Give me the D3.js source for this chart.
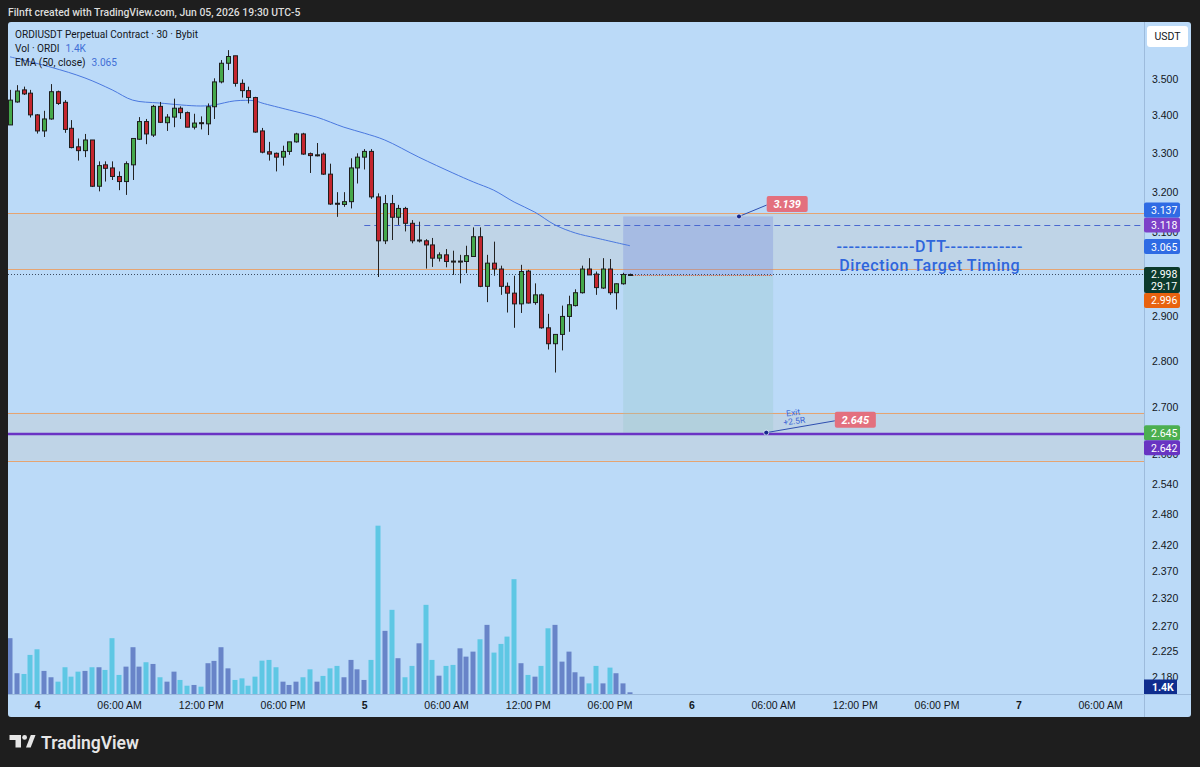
<!DOCTYPE html>
<html>
<head>
<meta charset="utf-8">
<script src="https://cdn.jsdelivr.net/npm/d3@7"></script>
<style>
  body { margin: 0; background: #1e1e1e; }
  svg { display: block; font-family: Roboto, "Liberation Sans", sans-serif; }
</style>
</head>
<body>
<svg id="chart" width="1200" height="767"></svg>
<script>
// 30 min candles, first one starts here (UTC-5)
const firstCandle = "2026-06-03 22:00";

const opens = [3.375,3.437,3.470,3.461,3.402,3.359,3.391,3.465,3.436,3.366,
  3.317,3.307,3.335,3.215,3.270,3.262,3.240,3.227,3.270,3.337,
  3.384,3.348,3.425,3.381,3.396,3.420,3.408,3.369,3.381,3.378,
  3.424,3.492,3.544,3.565,3.488,3.468,3.449,3.359,3.304,3.300,
  3.290,3.305,3.330,3.351,3.299,3.294,3.298,3.246,3.172,3.169,
  3.176,3.262,3.290,3.305,3.188,3.079,3.171,3.137,3.159,3.122,
  3.079,3.079,3.069,3.037,3.045,3.030,3.029,3.029,3.041,3.089,
  2.970,3.025,3.011,2.970,2.954,2.929,3.006,2.932,2.950,2.874,
  2.838,2.859,2.900,2.925,2.955,3.011,2.999,2.966,3.011,2.955,
  2.976,2.998];
const highs = [3.470,3.483,3.479,3.470,3.404,3.413,3.486,3.468,3.442,3.388,
  3.339,3.351,3.335,3.279,3.279,3.279,3.253,3.279,3.339,3.396,
  3.391,3.429,3.437,3.404,3.446,3.425,3.411,3.405,3.398,3.433,
  3.502,3.553,3.581,3.565,3.499,3.479,3.451,3.367,3.330,3.302,
  3.320,3.330,3.354,3.354,3.302,3.327,3.302,3.273,3.200,3.200,
  3.287,3.300,3.311,3.311,3.197,3.193,3.193,3.168,3.163,3.130,
  3.126,3.083,3.086,3.051,3.059,3.055,3.045,3.067,3.112,3.112,
  3.045,3.077,3.019,2.979,2.995,3.021,3.009,2.977,2.953,2.906,
  2.859,2.925,2.948,2.963,3.019,3.037,3.005,3.037,3.035,2.977,
  3.002,3.000];
const lows = [3.375,3.435,3.456,3.395,3.352,3.343,3.389,3.429,3.354,3.313,
  3.281,3.290,3.213,3.202,3.227,3.231,3.205,3.193,3.231,3.335,
  3.324,3.343,3.380,3.359,3.369,3.391,3.369,3.363,3.363,3.348,
  3.391,3.488,3.525,3.479,3.449,3.433,3.354,3.300,3.281,3.253,
  3.268,3.296,3.328,3.296,3.249,3.292,3.244,3.168,3.138,3.163,
  3.159,3.222,3.258,3.183,2.992,3.071,3.081,3.118,3.102,3.073,
  3.075,3.012,3.016,3.029,3.015,2.997,2.977,3.001,3.041,2.968,
  2.933,2.995,2.950,2.909,2.874,2.908,2.930,2.927,2.872,2.825,
  2.774,2.823,2.865,2.923,2.953,2.997,2.950,2.964,2.950,2.916,
  2.974,2.996];
const closes = [3.442,3.467,3.459,3.402,3.359,3.391,3.465,3.433,3.363,3.315,
  3.307,3.335,3.215,3.268,3.261,3.240,3.227,3.273,3.339,3.384,
  3.351,3.425,3.382,3.396,3.420,3.408,3.369,3.380,3.380,3.424,
  3.492,3.544,3.563,3.488,3.468,3.449,3.356,3.303,3.298,3.290,
  3.305,3.330,3.351,3.298,3.294,3.296,3.246,3.170,3.171,3.176,
  3.262,3.290,3.305,3.188,3.079,3.171,3.137,3.159,3.122,3.079,
  3.081,3.069,3.037,3.045,3.029,3.029,3.030,3.043,3.089,2.970,
  3.025,3.011,2.970,2.954,2.929,3.005,2.931,2.950,2.874,2.838,
  2.859,2.900,2.927,2.955,3.011,2.997,2.967,3.011,2.955,2.976,
  2.998,2.998];
// volume in K ORDI
const volumes = [45.7,17.0,16.4,32.0,36.6,18.9,13.7,10.1,21.9,14.2,
  18.3,18.9,21.9,21.9,19.7,45.7,15.6,22.4,38.3,22.4,
  26.0,24.6,13.7,10.1,18.3,11.5,6.8,7.4,6.0,25.2,
  27.1,38.3,21.0,11.5,12.8,6.8,14.2,27.3,27.9,21.9,
  10.1,7.4,10.1,13.7,20.2,10.1,14.8,21.0,23.0,13.7,
  27.9,20.2,11.5,27.9,137.8,51.7,68.9,29.3,13.7,23.0,
  41.5,73.0,27.9,15.0,23.0,23.8,37.4,30.6,34.7,44.8,
  56.6,33.9,41.0,47.0,94.0,25.2,15.6,14.2,23.0,53.8,
  56.6,26.5,34.7,17.8,14.2,8.7,23.0,8.7,21.6,17.0,
  8.7,1.4];

// EMA(50): candle number -> value
const emaCandle = [0,6,11,15,18,22,28,30,33,36,37,41,45,49,52,55,60,65,68,71,74,77,80,83,86,91];
const emaValue = [3.562,3.533,3.503,3.470,3.442,3.434,3.426,3.429,3.440,3.440,3.434,3.415,3.396,3.369,3.353,3.335,3.290,3.249,3.226,3.205,3.175,3.150,3.118,3.098,3.086,3.067];

const priceTicks = [3.5, 3.4, 3.3, 3.2, 3.1, 3.0, 2.9, 2.8, 2.7, 2.6, 2.54, 2.48, 2.42, 2.37, 2.32, 2.27, 2.225, 2.18];
const timeTickTimes = ["2026-06-04 00:00","2026-06-04 06:00","2026-06-04 12:00","2026-06-04 18:00",
  "2026-06-05 00:00","2026-06-05 06:00","2026-06-05 12:00","2026-06-05 18:00",
  "2026-06-06 00:00","2026-06-06 06:00","2026-06-06 12:00","2026-06-06 18:00",
  "2026-06-07 00:00","2026-06-07 06:00"];
const timeTickLabels = ["4","06:00 AM","12:00 PM","06:00 PM","5","06:00 AM","12:00 PM","06:00 PM",
  "6","06:00 AM","12:00 PM","06:00 PM","7","06:00 AM"];

// zones drawn on the chart (gray rectangles)
const zoneTops = [3.147, 2.687];
const zoneBottoms = [3.010, 2.587];
const dashedLevel = 3.118;
const dashedFrom = "2026-06-05 00:00";
const purpleLevel = 2.642;
const lastPrice = 2.998;

// short position tool
const posEntry = 2.996, posStop = 3.139, posTarget = 2.645;
const posFrom = "2026-06-05 19:00", posTo = "2026-06-06 06:00";

// price axis tags
const tagValues = [3.137, 3.118, 3.065, 2.998, 2.996, 2.645, 2.642];
const tagColors = ["#2f6be4", "#7d41c8", "#2f6be4", "#0c3a2c", "#e8620f", "#4caf50", "#6834c2"];
const tagOrder = [3, 2, 1, 5, 0, 4, 6];

document.addEventListener("DOMContentLoaded", function() {
    const svg = d3.select("#chart");
    const parse = d3.timeParse("%Y-%m-%d %H:%M");

    const paneLeft = 8, paneRight = 1144, paneTop = 22, paneBottom = 694;
    const outerRight = 1191, outerBottom = 717;

    const t0 = parse(firstCandle);
    const candleTime = i => d3.timeMinute.offset(t0, 30 * i);
    const candles = opens.map((o, i) => ({
        t: candleTime(i), o: o, h: highs[i], l: lows[i], c: closes[i], v: volumes[i],
        up: closes[i] >= o
    }));

    const x = d3.scaleTime()
        .domain([t0, candleTime(opens.length - 1)])
        .range([10, 630]);
    const y = d3.scaleLog()
        .domain([2.1504, 3.6617])
        .range([paneBottom, paneTop]);
    const yVol = d3.scaleLinear()
        .domain([0, 140])
        .range([paneBottom, 523]);

    // top header bar
    svg.append("text")
        .attr("x", 8).attr("y", 16)
        .attr("fill", "#dcdcdc")
        .style("font-size", "10.4px").style("font-weight", "500")
        .text("Filnft created with TradingView.com, Jun 05, 2026 19:30 UTC-5");

    // chart background
    svg.append("rect")
        .attr("x", paneLeft).attr("y", paneTop)
        .attr("width", outerRight - paneLeft).attr("height", outerBottom - paneTop)
        .attr("rx", 3)
        .attr("fill", "#bbdaf8");

    svg.append("defs").append("clipPath").attr("id", "pane-clip")
        .append("rect")
        .attr("x", paneLeft).attr("y", paneTop)
        .attr("width", paneRight - paneLeft).attr("height", paneBottom - paneTop);

    const pane = svg.append("g").attr("clip-path", "url(#pane-clip)");

    // gray zones with orange borders
    zoneTops.forEach((top, i) => {
        pane.append("rect")
            .attr("x", paneLeft).attr("y", y(top))
            .attr("width", paneRight - paneLeft).attr("height", y(zoneBottoms[i]) - y(top))
            .attr("fill", "rgba(200,200,200,0.35)");
        [top, zoneBottoms[i]].forEach(p => {
            pane.append("line")
                .attr("x1", paneLeft).attr("x2", paneRight)
                .attr("y1", Math.round(y(p)) + 0.5).attr("y2", Math.round(y(p)) + 0.5)
                .attr("stroke", "#e5a472").attr("stroke-width", 1);
        });
    });

    // position tool zones
    const px1 = x(parse(posFrom)), px2 = x(parse(posTo));
    pane.append("rect")
        .attr("x", px1).attr("y", y(posStop))
        .attr("width", px2 - px1).attr("height", y(posEntry) - y(posStop))
        .attr("fill", "rgba(110,130,220,0.3)");
    pane.append("rect")
        .attr("x", px1).attr("y", y(posEntry))
        .attr("width", px2 - px1).attr("height", y(posTarget) - y(posEntry))
        .attr("fill", "rgba(150,200,200,0.3)");

    // dashed level
    pane.append("line")
        .attr("x1", x(parse(dashedFrom))).attr("x2", paneRight)
        .attr("y1", Math.round(y(dashedLevel)) + 0.5).attr("y2", Math.round(y(dashedLevel)) + 0.5)
        .attr("stroke", "#4a68d0").attr("stroke-width", 1.2).attr("stroke-dasharray", "6,4");

    // last price dotted line
    pane.append("line")
        .attr("x1", paneLeft).attr("x2", paneRight)
        .attr("y1", Math.round(y(lastPrice)) + 0.5).attr("y2", Math.round(y(lastPrice)) + 0.5)
        .attr("stroke", "#3d4d63").attr("stroke-dasharray", "1,2");

    // entry line of the position
    pane.append("line")
        .attr("x1", px1 + 6).attr("x2", px2)
        .attr("y1", Math.round(y(posEntry)) + 0.5).attr("y2", Math.round(y(posEntry)) + 0.5)
        .attr("stroke", "#d9572c").attr("stroke-dasharray", "1,1");

    // purple level
    pane.append("line")
        .attr("x1", paneLeft).attr("x2", paneRight)
        .attr("y1", y(purpleLevel)).attr("y2", y(purpleLevel))
        .attr("stroke", "#6a33c4").attr("stroke-width", 2.5);

    // volume
    pane.selectAll("rect.vol")
        .data(candles)
        .enter()
        .append("rect")
        .attr("class", "vol")
        .attr("x", d => Math.round(x(d.t)) - 2.5)
        .attr("y", d => yVol(d.v))
        .attr("width", 5)
        .attr("height", d => yVol(0) - yVol(d.v))
        .attr("fill", d => d.up ? "#6884c8" : "#5ec7e4");

    // EMA line
    const ema = emaCandle.map((c, i) => ({t: candleTime(c), v: emaValue[i]}));
    pane.append("path")
        .datum(ema)
        .attr("fill", "none")
        .attr("stroke", "#4a78df")
        .attr("stroke-width", 1)
        .attr("d", d3.line().x(d => x(d.t)).y(d => y(d.v)).curve(d3.curveCatmullRom));

    // candles
    const candle = pane.selectAll("g.candle")
        .data(candles)
        .enter()
        .append("g")
        .attr("class", "candle");
    candle.append("line")
        .attr("x1", d => Math.round(x(d.t)) + 0.5)
        .attr("x2", d => Math.round(x(d.t)) + 0.5)
        .attr("y1", d => y(d.h))
        .attr("y2", d => y(d.l))
        .attr("stroke", "#222");
    candle.append("rect")
        .attr("x", d => Math.round(x(d.t)) - 1.5)
        .attr("y", d => y(Math.max(d.o, d.c)))
        .attr("width", 4)
        .attr("height", d => Math.max(1, y(Math.min(d.o, d.c)) - y(Math.max(d.o, d.c))))
        .attr("fill", d => d.up ? "#45a84b" : "#c4262e")
        .attr("stroke", "#1e1e1e")
        .attr("stroke-width", 1);

    // notes with connector lines
    const notes = [
        {from: "2026-06-06 03:30", price: posStop, at: "2026-06-06 07:00", labelPrice: 3.170, text: "3.139"},
        {from: "2026-06-06 05:30", price: posTarget, at: "2026-06-06 12:00", labelPrice: 2.672, text: "2.645"}
    ];
    notes.forEach(n => {
        const ax = x(parse(n.from)), ay = y(n.price);
        const lx = x(parse(n.at)), ly = y(n.labelPrice);
        pane.append("line")
            .attr("x1", ax).attr("y1", ay)
            .attr("x2", lx - 20).attr("y2", ly + 1)
            .attr("stroke", "#2f4fb0");
        pane.append("circle")
            .attr("cx", ax).attr("cy", ay).attr("r", 2.5)
            .attr("fill", "#16288c").attr("stroke", "#e6eefa").attr("stroke-width", 0.8);
        pane.append("rect")
            .attr("x", lx - 20).attr("y", ly - 8)
            .attr("width", 41).attr("height", 16).attr("rx", 2)
            .attr("fill", "#e3707e");
        pane.append("text")
            .attr("x", lx + 0.5).attr("y", ly + 4)
            .attr("text-anchor", "middle")
            .attr("fill", "#fff")
            .style("font-size", "11px").style("font-weight", "bold").style("font-style", "italic")
            .text(n.text);
    });

    // "Exit +2.5R" along the target connector
    const ex = x(parse("2026-06-06 07:30")), ey = y(2.681);
    const exitText = pane.append("text")
        .attr("transform", `translate(${ex},${ey}) rotate(-7)`)
        .attr("text-anchor", "middle")
        .attr("fill", "#3d66d6")
        .style("font-size", "8.5px");
    exitText.append("tspan").attr("x", 0).attr("y", 0).text("Exit");
    exitText.append("tspan").attr("x", 0).attr("y", 8.5).text("+2.5R");

    // DTT text
    const dttX = x(parse("2026-06-06 17:30"));
    const dtt = pane.append("g")
        .attr("fill", "#2f66dc")
        .attr("text-anchor", "middle")
        .style("font-size", "16px").style("font-weight", "500").style("letter-spacing", "0.6px");
    dtt.append("text")
        .attr("x", dttX).attr("y", y(3.064) + 5)
        .text("-------------DTT-------------");
    dtt.append("text")
        .attr("x", dttX).attr("y", y(3.019) + 5)
        .text("Direction Target Timing");

    // legend
    const legend = svg.append("g").style("font-size", "10.1px").attr("fill", "#131722");
    legend.append("text").attr("x", 15).attr("y", 38)
        .text("ORDIUSDT Perpetual Contract · 30 · Bybit");
    const volLegend = legend.append("text").attr("x", 15).attr("y", 52);
    volLegend.append("tspan").text("Vol · ORDI");
    volLegend.append("tspan").attr("dx", 6).attr("fill", "#3f6fd6").text("1.4K");
    const emaLegend = legend.append("text").attr("x", 15).attr("y", 66);
    emaLegend.append("tspan").text("EMA (50, close)");
    emaLegend.append("tspan").attr("dx", 6).attr("fill", "#3f6fd6").text("3.065");

    // separators
    svg.append("line")
        .attr("x1", paneRight + 0.5).attr("x2", paneRight + 0.5)
        .attr("y1", paneTop).attr("y2", outerBottom)
        .attr("stroke", "#9dbbdc");
    svg.append("line")
        .attr("x1", paneLeft).attr("x2", outerRight)
        .attr("y1", paneBottom + 0.5).attr("y2", paneBottom + 0.5)
        .attr("stroke", "#9dbbdc");

    // price axis
    const yAxis = svg.append("g")
        .attr("transform", `translate(${paneRight},0)`)
        .call(d3.axisRight(y).tickValues(priceTicks).tickSize(0).tickPadding(8).tickFormat(d3.format(".3f")));
    yAxis.select(".domain").remove();
    yAxis.selectAll("text").attr("fill", "#131722").style("font-size", "10.5px");

    // time axis
    const xAxis = svg.append("g")
        .attr("transform", `translate(0,${paneBottom})`)
        .call(d3.axisBottom(x).tickValues(timeTickTimes.map(parse)).tickSize(0).tickPadding(8)
            .tickFormat((d, i) => timeTickLabels[i]));
    xAxis.select(".domain").remove();
    xAxis.selectAll("text")
        .attr("fill", "#131722")
        .style("font-size", "10.5px")
        .style("font-weight", (d, i) => timeTickLabels[i].length < 3 ? "bold" : "normal");

    // USDT box
    svg.append("rect")
        .attr("x", 1147).attr("y", 26).attr("width", 41).attr("height", 21).attr("rx", 3)
        .attr("fill", "#fff");
    svg.append("text")
        .attr("x", 1167.5).attr("y", 40).attr("text-anchor", "middle")
        .attr("fill", "#131722").style("font-size", "10.5px")
        .text("USDT");

    // price tags, spread out where they overlap
    const placed = [];
    tagOrder.forEach(i => {
        const v = tagValues[i];
        const h = v === lastPrice ? 26 : 15;
        const cy = y(v);
        let top = cy - 7.5;
        placed.forEach(p => {
            if (top < p.bottom && top + h > p.top) {
                top = cy < p.cy ? p.top - h : p.bottom;
            }
        });
        placed.push({i: i, top: top, bottom: top + h, cy: cy});
    });
    placed.forEach(p => {
        const v = tagValues[p.i];
        svg.append("rect")
            .attr("x", paneRight).attr("y", p.top)
            .attr("width", 36).attr("height", p.bottom - p.top).attr("rx", 2)
            .attr("fill", tagColors[p.i]);
        svg.append("text")
            .attr("x", paneRight + 7).attr("y", p.top + 11.5)
            .attr("fill", "#fff").style("font-size", "10.5px")
            .text(d3.format(".3f")(v));
        if (v === lastPrice) {
            svg.append("text")
                .attr("x", paneRight + 7).attr("y", p.top + 23)
                .attr("fill", "#fff").style("font-size", "10.5px")
                .text("29:17");
        }
    });

    // volume tag
    svg.append("rect")
        .attr("x", paneRight).attr("y", paneBottom - 14.5)
        .attr("width", 33).attr("height", 14.5)
        .attr("fill", "#0f2d8e");
    svg.append("text")
        .attr("x", paneRight + 8).attr("y", paneBottom - 3.5)
        .attr("fill", "#fff").style("font-size", "10.5px").style("font-weight", "bold")
        .text(d3.format(".1f")(volumes[volumes.length - 1]) + "K");

    // TradingView logo
    const logo = svg.append("g").attr("fill", "#e6e6e6");
    logo.append("path").attr("d", "M9.5,735 H21 V747.5 H15.5 V740 H9.5 Z");
    logo.append("circle").attr("cx", 24.6).attr("cy", 737.4).attr("r", 2.4);
    logo.append("path").attr("d", "M26,747.5 L30.8,735 H35.5 L30.7,747.5 Z");
    logo.append("text")
        .attr("x", 41).attr("y", 748.5)
        .style("font-size", "17.5px").style("font-weight", "600")
        .text("TradingView");
});
</script>
</body>
</html>
